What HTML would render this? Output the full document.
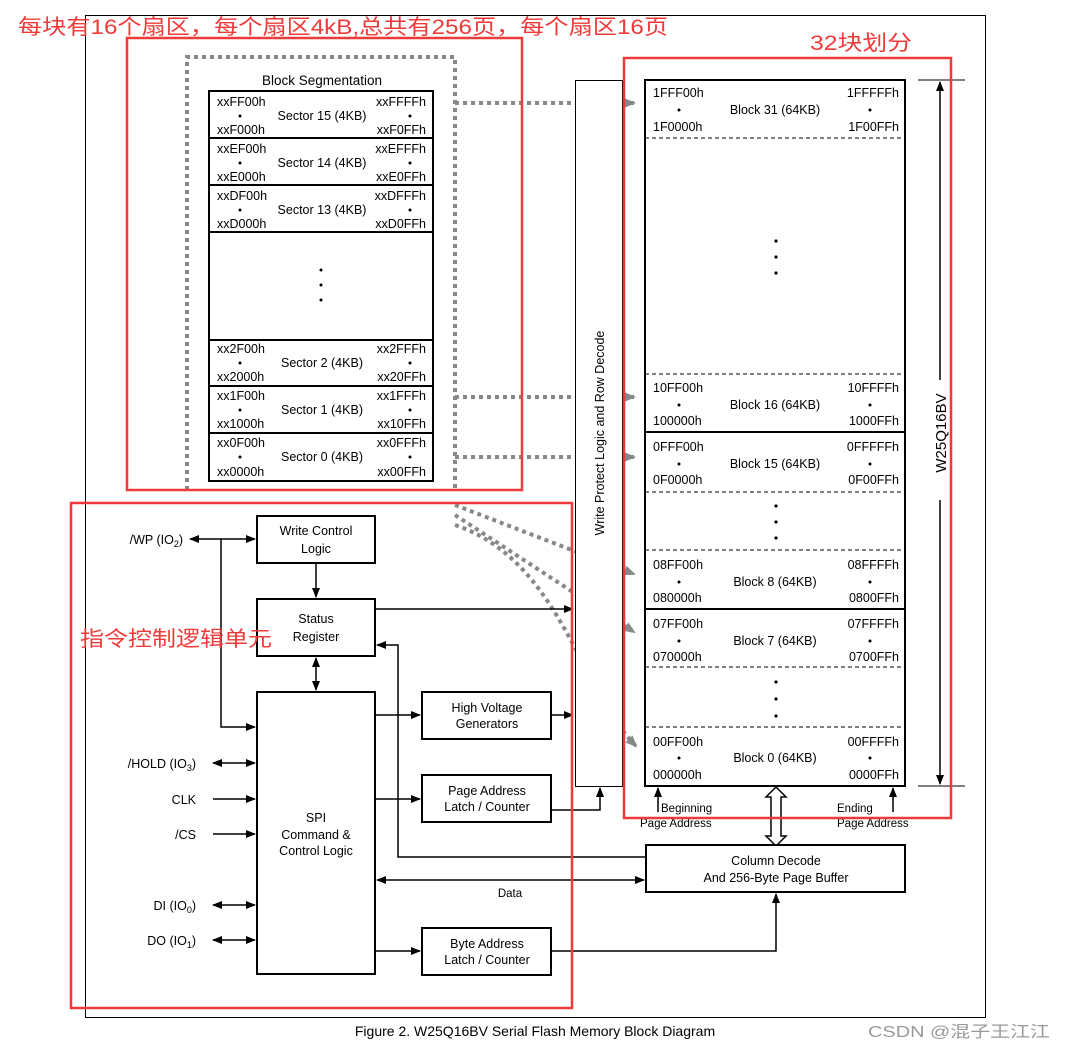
<!DOCTYPE html>
<html><head><meta charset="utf-8"><style>
body{margin:0;background:#fff}
svg{display:block}
text{font-family:"Liberation Sans",Arial,sans-serif;font-size:12.5px;fill:#000}
.c{text-anchor:middle}
.r{text-anchor:end}
.red{fill:#f03a3a;font-family:"Liberation Sans","Noto Sans CJK SC",sans-serif;font-size:21px}
</style></head><body>
<svg width="1067" height="1051" viewBox="0 0 1067 1051" xmlns="http://www.w3.org/2000/svg">
<defs>
<marker id="a" markerWidth="10" markerHeight="8" refX="9" refY="4" orient="auto" markerUnits="userSpaceOnUse"><path d="M0,0L10,4L0,8z" fill="#000"/></marker>
<marker id="as" markerWidth="10" markerHeight="8" refX="1" refY="4" orient="auto" markerUnits="userSpaceOnUse"><path d="M10,0L0,4L10,8z" fill="#000"/></marker>
<marker id="g" markerWidth="12" markerHeight="10" refX="10" refY="5" orient="auto" markerUnits="userSpaceOnUse"><path d="M0,0L12,5L0,10z" fill="#888"/></marker>
</defs>
<rect x="85.5" y="15.5" width="900" height="1002" fill="none" stroke="#000" stroke-width="1"/>
<text class="c" x="535" y="1036" style="font-size:14px">Figure 2. W25Q16BV Serial Flash Memory Block Diagram</text>
<text x="868" y="1037" style="font-size:16px;fill:#999;font-family:'Liberation Sans','Noto Sans CJK SC',sans-serif" textLength="182" lengthAdjust="spacingAndGlyphs">CSDN @混子王江江</text>

<!-- dotted box -->
<g stroke="#888" stroke-width="4" stroke-dasharray="4,4" fill="none">
<path d="M187,490V57H455V490"/>
<path d="M455,103H634" marker-end="url(#g)"/>
<path d="M455,397H634" marker-end="url(#g)"/>
<path d="M455,457H634" marker-end="url(#g)"/>
<path d="M455,505L634,574" marker-end="url(#g)"/>
<path d="M455,515L634,632" marker-end="url(#g)"/>
<path d="M455,525C560,560 580,690 636,746" marker-end="url(#g)"/>
</g>

<!-- sector table -->
<text class="c" x="322" y="85" style="font-size:13.5px">Block Segmentation</text>
<rect x="209" y="91" width="224" height="390" fill="#fff" stroke="#000" stroke-width="2"/>
<g stroke="#000" stroke-width="2">
<line x1="209" y1="138" x2="433" y2="138"/><line x1="209" y1="185" x2="433" y2="185"/><line x1="209" y1="232" x2="433" y2="232"/>
<line x1="209" y1="340" x2="433" y2="340"/><line x1="209" y1="386" x2="433" y2="386"/><line x1="209" y1="433" x2="433" y2="433"/>
</g>
<g>
<text x="217" y="106">xxFF00h</text><text class="r" x="426" y="106">xxFFFFh</text><text class="c" x="322" y="120">Sector 15 (4KB)</text><text x="217" y="134">xxF000h</text><text class="r" x="426" y="134">xxF0FFh</text>
<text x="217" y="153">xxEF00h</text><text class="r" x="426" y="153">xxEFFFh</text><text class="c" x="322" y="167">Sector 14 (4KB)</text><text x="217" y="181">xxE000h</text><text class="r" x="426" y="181">xxE0FFh</text>
<text x="217" y="200">xxDF00h</text><text class="r" x="426" y="200">xxDFFFh</text><text class="c" x="322" y="214">Sector 13 (4KB)</text><text x="217" y="228">xxD000h</text><text class="r" x="426" y="228">xxD0FFh</text>
<text x="217" y="353">xx2F00h</text><text class="r" x="426" y="353">xx2FFFh</text><text class="c" x="322" y="367">Sector 2 (4KB)</text><text x="217" y="381">xx2000h</text><text class="r" x="426" y="381">xx20FFh</text>
<text x="217" y="400">xx1F00h</text><text class="r" x="426" y="400">xx1FFFh</text><text class="c" x="322" y="414">Sector 1 (4KB)</text><text x="217" y="428">xx1000h</text><text class="r" x="426" y="428">xx10FFh</text>
<text x="217" y="447">xx0F00h</text><text class="r" x="426" y="447">xx0FFFh</text><text class="c" x="322" y="461">Sector 0 (4KB)</text><text x="217" y="476">xx0000h</text><text class="r" x="426" y="476">xx00FFh</text>
</g>
<g fill="#000">
<circle cx="240" cy="116" r="1.5"/><circle cx="410" cy="116" r="1.5"/><circle cx="240" cy="163" r="1.5"/><circle cx="410" cy="163" r="1.5"/><circle cx="240" cy="210" r="1.5"/><circle cx="410" cy="210" r="1.5"/>
<circle cx="240" cy="363" r="1.5"/><circle cx="410" cy="363" r="1.5"/><circle cx="240" cy="410" r="1.5"/><circle cx="410" cy="410" r="1.5"/><circle cx="240" cy="457" r="1.5"/><circle cx="410" cy="457" r="1.5"/>
<circle cx="321" cy="270" r="1.5"/><circle cx="321" cy="285" r="1.5"/><circle cx="321" cy="300" r="1.5"/>
</g>

<!-- write protect -->
<rect x="575.5" y="80.5" width="47" height="706" fill="#fff" stroke="#000"/>
<text class="c" transform="translate(604,433) rotate(-90)">Write Protect Logic and Row Decode</text>

<!-- block table -->
<rect x="645" y="80" width="260" height="706" fill="#fff" stroke="#000" stroke-width="2"/>
<g stroke="#000" stroke-width="1" stroke-dasharray="4,3">
<line x1="645" y1="138" x2="905" y2="138"/><line x1="645" y1="374" x2="905" y2="374"/><line x1="645" y1="492" x2="905" y2="492"/><line x1="645" y1="550" x2="905" y2="550"/><line x1="645" y1="667" x2="905" y2="667"/><line x1="645" y1="727" x2="905" y2="727"/>
</g>
<line x1="645" y1="432" x2="905" y2="432" stroke="#000" stroke-width="2"/>
<line x1="645" y1="609" x2="905" y2="609" stroke="#000" stroke-width="2"/>
<g style="font-size:13px">
<text x="653" y="97">1FFF00h</text><text class="r" x="899" y="97">1FFFFFh</text><text class="c" x="775" y="114">Block 31 (64KB)</text><text x="653" y="131">1F0000h</text><text class="r" x="899" y="131">1F00FFh</text>
<text x="653" y="392">10FF00h</text><text class="r" x="899" y="392">10FFFFh</text><text class="c" x="775" y="409">Block 16 (64KB)</text><text x="653" y="425">100000h</text><text class="r" x="899" y="425">1000FFh</text>
<text x="653" y="451">0FFF00h</text><text class="r" x="899" y="451">0FFFFFh</text><text class="c" x="775" y="468">Block 15 (64KB)</text><text x="653" y="484">0F0000h</text><text class="r" x="899" y="484">0F00FFh</text>
<text x="653" y="569">08FF00h</text><text class="r" x="899" y="569">08FFFFh</text><text class="c" x="775" y="586">Block 8 (64KB)</text><text x="653" y="602">080000h</text><text class="r" x="899" y="602">0800FFh</text>
<text x="653" y="628">07FF00h</text><text class="r" x="899" y="628">07FFFFh</text><text class="c" x="775" y="645">Block 7 (64KB)</text><text x="653" y="661">070000h</text><text class="r" x="899" y="661">0700FFh</text>
<text x="653" y="746">00FF00h</text><text class="r" x="899" y="746">00FFFFh</text><text class="c" x="775" y="762">Block 0 (64KB)</text><text x="653" y="779">000000h</text><text class="r" x="899" y="779">0000FFh</text>
</g>
<g fill="#000">
<circle cx="679" cy="110" r="1.5"/><circle cx="870" cy="110" r="1.5"/><circle cx="679" cy="405" r="1.5"/><circle cx="870" cy="405" r="1.5"/><circle cx="679" cy="464" r="1.5"/><circle cx="870" cy="464" r="1.5"/>
<circle cx="679" cy="582" r="1.5"/><circle cx="870" cy="582" r="1.5"/><circle cx="679" cy="641" r="1.5"/><circle cx="870" cy="641" r="1.5"/><circle cx="679" cy="758" r="1.5"/><circle cx="870" cy="758" r="1.5"/>
<circle cx="776" cy="241" r="1.6"/><circle cx="776" cy="257" r="1.6"/><circle cx="776" cy="273" r="1.6"/>
<circle cx="776" cy="506" r="1.6"/><circle cx="776" cy="522" r="1.6"/><circle cx="776" cy="538" r="1.6"/>
<circle cx="776" cy="682" r="1.6"/><circle cx="776" cy="699" r="1.6"/><circle cx="776" cy="716" r="1.6"/>
</g>
<!-- W25Q16BV -->
<line x1="918" y1="80" x2="965" y2="80" stroke="#000"/><line x1="918" y1="786" x2="965" y2="786" stroke="#000"/>
<line x1="940" y1="82" x2="940" y2="380" stroke="#000" stroke-width="1.5" marker-start="url(#as)"/>
<line x1="940" y1="500" x2="940" y2="784" stroke="#000" stroke-width="1.5" marker-end="url(#a)"/>
<text class="c" transform="translate(946,433) rotate(-90)" style="font-size:15px">W25Q16BV</text>
<!-- beginning/ending -->
<line x1="658" y1="812" x2="658" y2="788" stroke="#000" stroke-width="1.5" marker-end="url(#a)"/>
<line x1="893" y1="812" x2="893" y2="788" stroke="#000" stroke-width="1.5" marker-end="url(#a)"/>
<text x="661" y="812" style="font-size:11.5px">Beginning</text><text x="640" y="827" style="font-size:11.5px">Page Address</text>
<text x="837" y="812" style="font-size:11.5px">Ending</text><text x="837" y="827" style="font-size:11.5px">Page Address</text>
<path d="M776,787L786,797H781V836H786L776,846L766,836H771V797H766Z" fill="#fff" stroke="#000" stroke-width="1.5"/>

<!-- left boxes -->
<g fill="#fff" stroke="#000" stroke-width="2">
<rect x="257" y="516" width="118" height="47"/><rect x="257" y="599" width="118" height="57"/><rect x="257" y="692" width="118" height="282"/>
<rect x="422" y="692" width="129" height="47"/><rect x="422" y="775" width="129" height="47"/><rect x="422" y="928" width="129" height="47"/>
<rect x="646" y="845" width="259" height="47"/>
</g>
<text class="c" x="316" y="535">Write Control</text><text class="c" x="316" y="553">Logic</text>
<text class="c" x="316" y="623">Status</text><text class="c" x="316" y="641">Register</text>
<text class="c" x="316" y="822">SPI</text><text class="c" x="316" y="839">Command &amp;</text><text class="c" x="316" y="855">Control Logic</text>
<text class="c" x="487" y="712">High Voltage</text><text class="c" x="487" y="728">Generators</text>
<text class="c" x="487" y="795">Page Address</text><text class="c" x="487" y="811">Latch / Counter</text>
<text class="c" x="487" y="948">Byte Address</text><text class="c" x="487" y="964">Latch / Counter</text>
<text class="c" x="776" y="865">Column Decode</text><text class="c" x="776" y="882">And 256-Byte Page Buffer</text>
<text class="c" x="510" y="897" style="font-size:11.5px">Data</text>

<g stroke="#000" stroke-width="1.5" fill="none">
<line x1="190" y1="539" x2="255" y2="539" marker-start="url(#as)" marker-end="url(#a)"/>
<path d="M221,539V727H255" marker-end="url(#a)"/>
<line x1="213" y1="763" x2="255" y2="763" marker-start="url(#as)" marker-end="url(#a)"/>
<line x1="213" y1="799" x2="255" y2="799" marker-end="url(#a)"/>
<line x1="213" y1="834" x2="255" y2="834" marker-end="url(#a)"/>
<line x1="213" y1="905" x2="255" y2="905" marker-start="url(#as)" marker-end="url(#a)"/>
<line x1="213" y1="940" x2="255" y2="940" marker-start="url(#as)" marker-end="url(#a)"/>
<line x1="316" y1="564" x2="316" y2="597" marker-end="url(#a)"/>
<line x1="316" y1="658" x2="316" y2="690" marker-start="url(#as)" marker-end="url(#a)"/>
<line x1="376" y1="609" x2="573" y2="609" marker-end="url(#a)"/>
<line x1="376" y1="715" x2="420" y2="715" marker-end="url(#a)"/>
<line x1="552" y1="715" x2="573" y2="715" marker-end="url(#a)"/>
<line x1="376" y1="799" x2="420" y2="799" marker-end="url(#a)"/>
<path d="M552,810H600V788" marker-end="url(#a)"/>
<path d="M645,857H398V645H377" marker-end="url(#a)"/>
<line x1="377" y1="880" x2="644" y2="880" marker-start="url(#as)" marker-end="url(#a)"/>
<line x1="376" y1="951" x2="420" y2="951" marker-end="url(#a)"/>
<path d="M552,951H776V894" marker-end="url(#a)"/>
</g>
<text class="r" x="183" y="544">/WP (IO<tspan dy="3" style="font-size:9px">2</tspan><tspan dy="-3">)</tspan></text>
<text class="r" x="196" y="768">/HOLD (IO<tspan dy="3" style="font-size:9px">3</tspan><tspan dy="-3">)</tspan></text>
<text class="r" x="196" y="804">CLK</text>
<text class="r" x="196" y="839">/CS</text>
<text class="r" x="196" y="910">DI (IO<tspan dy="3" style="font-size:9px">0</tspan><tspan dy="-3">)</tspan></text>
<text class="r" x="196" y="945">DO (IO<tspan dy="3" style="font-size:9px">1</tspan><tspan dy="-3">)</tspan></text>

<!-- red annotations -->
<g fill="none" stroke="#f03a3a" stroke-width="2.5">
<rect x="127" y="38" width="395" height="452"/>
<rect x="624" y="58" width="327" height="760"/>
<rect x="71" y="503" width="501" height="505"/>
</g>
<text class="red" x="18" y="34" textLength="650" lengthAdjust="spacingAndGlyphs">每块有16个扇区，每个扇区4kB,总共有256页，每个扇区16页</text>
<text class="red" x="810" y="50" textLength="102" lengthAdjust="spacingAndGlyphs">32块划分</text>
<text class="red" x="80" y="646" textLength="192" lengthAdjust="spacingAndGlyphs">指令控制逻辑单元</text>
</svg>
</body></html>
